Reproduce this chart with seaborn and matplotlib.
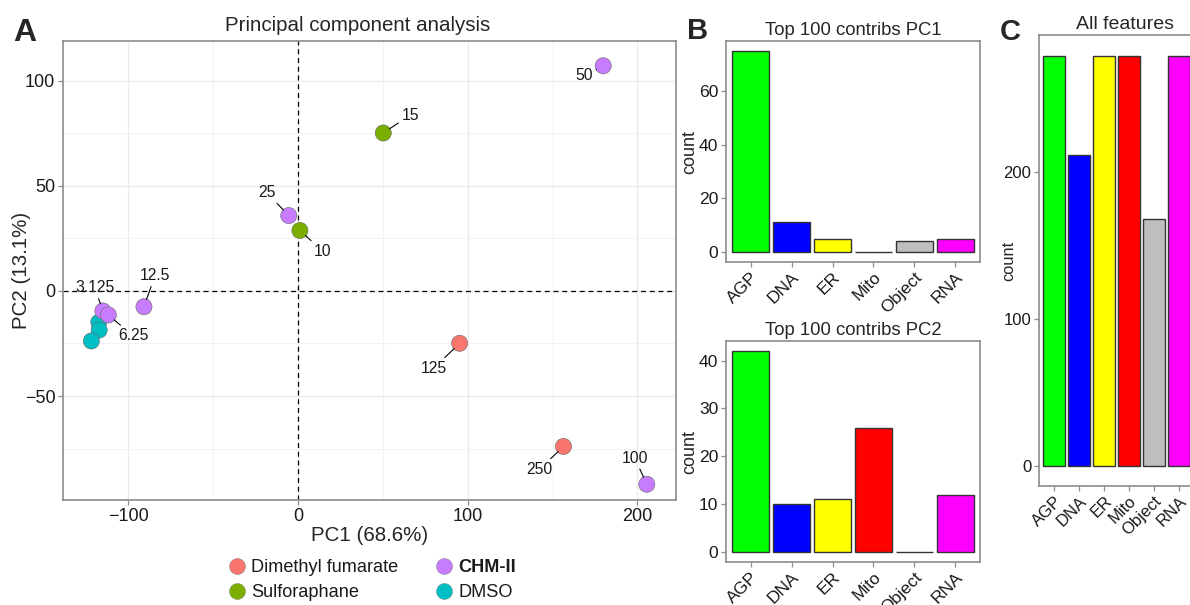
import numpy as np
import pandas as pd
import matplotlib
matplotlib.use("Agg")
import matplotlib.pyplot as plt
from matplotlib.lines import Line2D
import seaborn as sns

sns.set_theme(style="white")
plt.rcParams["font.family"] = ["Liberation Sans", "DejaVu Sans"]

# ---- PCA scores ----
treatment = ["DMSO", "DMSO", "DMSO",
             "CHM-II", "CHM-II", "CHM-II", "CHM-II", "CHM-II", "CHM-II",
             "Sulforaphane", "Sulforaphane",
             "Dimethyl fumarate", "Dimethyl fumarate"]
dose = ["", "", "",
        "50", "25", "12.5", "3.125", "6.25", "100",
        "15", "10",
        "125", "250"]
pc1 = [-117.4, -117.2, -121.8,
       179.8, -5.5, -90.8, -115.0, -111.8, 205.5,
       50.2, 1.1,
       95.2, 156.4]
pc2 = [-14.9, -18.6, -23.8,
       107.2, 35.9, -7.5, -9.5, -11.4, -92.0,
       75.2, 28.8,
       -24.9, -74.0]

# ---- feature counts per channel ----
features = ["AGP", "DNA", "ER", "Mito", "Object", "RNA"]
top_pc1 = [75, 11, 5, 0, 4, 5]
top_pc2 = [42, 10, 11, 26, 0, 12]
all_features = [279, 211, 279, 279, 168, 279]

treat_colors = {"Dimethyl fumarate": "#F8766D", "Sulforaphane": "#7CAE00",
                "CHM-II": "#C77CFF", "DMSO": "#00BFC4"}
feat_colors = {"AGP": "#00FF00", "DNA": "#0000FF", "ER": "#FFFF00",
               "Mito": "#FF0000", "Object": "#BEBEBE", "RNA": "#FF00FF"}

# label offsets (pixels) for the dose annotations
label_offsets = {"50": (-19, -10), "15": (27, 18), "25": (-22, 23),
                 "10": (23, -21), "12.5": (11, 31), "3.125": (-8, 23),
                 "6.25": (25, -21), "125": (-26, -25), "250": (-24, -23),
                 "100": (-12, 26)}

W, H = 1190, 605
fig = plt.figure(figsize=(W / 100, H / 100), dpi=100)


def px_axes(left, top, right, bottom):
    return fig.add_axes([left / W, 1 - bottom / H, (right - left) / W, (bottom - top) / H])


BORDER = "#8C8C8C"
TICKC = "#1A1A1A"


def style_frame(ax):
    for s in ax.spines.values():
        s.set_visible(True)
        s.set_color(BORDER)
        s.set_linewidth(1.2)
    ax.tick_params(axis="both", which="major", direction="out", length=3.5,
                   width=0.9, color=BORDER, labelcolor=TICKC, pad=2,
                   bottom=True, left=True)


# ---------------- Panel A ----------------
axA = px_axes(63, 41, 676, 500)
df = pd.DataFrame({"PC1": pc1, "PC2": pc2, "treatment": treatment, "dose": dose})
axA.axhline(0, color="black", linestyle=(0, (4, 3)), linewidth=0.9, zorder=1)
axA.axvline(0, color="black", linestyle=(0, (4, 3)), linewidth=0.9, zorder=1)
sns.scatterplot(data=df, x="PC1", y="PC2", hue="treatment", palette=treat_colors,
                s=135, edgecolor="#666666", linewidth=0.4, legend=False, ax=axA, zorder=3)
axA.set_xticks([-100, 0, 100, 200])
axA.set_xticks([-150, -50, 50, 150], minor=True)
axA.set_yticks([-50, 0, 50, 100])
axA.set_yticks([-75, -25, 25, 75], minor=True)
axA.set_xlim(-138.5, 222.7)
axA.set_ylim(-99.5, 119)
axA.grid(True, which="major", color="#EBEBEB", linewidth=1.0, zorder=0)
axA.grid(True, which="minor", color="#F2F2F2", linewidth=0.8, zorder=0)
axA.set_axisbelow(True)
for xv, yv, lab in zip(pc1, pc2, dose):
    if not lab:
        continue
    dx, dy = label_offsets[lab]
    axA.annotate(lab, xy=(xv, yv), xytext=(dx, dy), textcoords="offset pixels",
                 ha="center", va="center", fontsize=11.3, color="#1A1A1A", zorder=4,
                 arrowprops=dict(arrowstyle="-", color="black", lw=0.8,
                                 shrinkA=0, shrinkB=5.5))
style_frame(axA)
axA.tick_params(axis="both", which="minor", length=0)
axA.tick_params(axis="both", which="major", labelsize=13)
axA.set_xlabel("PC1 (68.6%)", fontsize=14.8, labelpad=1)
axA.set_ylabel("PC2 (13.1%)", fontsize=14.8)
axA.yaxis.set_label_coords(-0.053, 0.5)
axA.set_title("Principal component analysis", fontsize=14.8, pad=7, x=0.481)

handles = [Line2D([0], [0], marker="o", linestyle="", markersize=11.5,
                  markerfacecolor=treat_colors[t], markeredgecolor="#777777",
                  markeredgewidth=0.3)
           for t in ["Dimethyl fumarate", "Sulforaphane", "CHM-II", "DMSO"]]
leg = fig.legend(handles, ["Dimethyl fumarate", "Sulforaphane", "CHM-II", "DMSO"],
                 ncol=2, loc="center", bbox_to_anchor=(372 / W, 1 - 580 / H),
                 frameon=False, fontsize=13.1, handlelength=1.0, handletextpad=0.3,
                 columnspacing=2.0, labelspacing=0.45)
for t in leg.get_texts():
    t.set_color("#1A1A1A")
    if t.get_text() == "CHM-II":
        t.set_fontweight("bold")


# ---------------- Bar panels ----------------
def bar_panel(ax, counts, title, yticks, tick_fs, title_fs, title_x, ylab_fs, ylab_x):
    bdf = pd.DataFrame({"feature": features, "count": counts})
    sns.barplot(data=bdf, x="feature", y="count", hue="feature", palette=feat_colors,
                order=features, hue_order=features, width=0.9, saturation=1,
                edgecolor="#333333", linewidth=1.0, legend=False, ax=ax, zorder=2)
    top = max(counts)
    ax.set_yticks(yticks)
    ax.set_ylim(-0.05 * top, 1.05 * top)
    ax.set_xlim(-0.6, len(features) - 0.4)
    style_frame(ax)
    ax.tick_params(axis="both", labelsize=tick_fs)
    ax.set_xticks(range(len(features)))
    ax.set_xticklabels(features, rotation=45, ha="right", rotation_mode="anchor")
    ax.set_xlabel("")
    ax.set_ylabel("count", fontsize=ylab_fs)
    ax.yaxis.set_label_coords(ylab_x, 0.5)
    ax.set_title(title, fontsize=title_fs, pad=4, x=title_x)
    ax.grid(False)


axB1 = px_axes(726, 41, 980, 262)
bar_panel(axB1, top_pc1, "Top 100 contribs PC1", [0, 20, 40, 60], 12.6, 13.3, 0.5, 13, -0.108)
axB2 = px_axes(726, 341, 980, 562)
bar_panel(axB2, top_pc2, "Top 100 contribs PC2", [0, 10, 20, 30, 40], 12.6, 13.3, 0.5, 13, -0.108)
axC = px_axes(1039, 35, 1194, 486)
bar_panel(axC, all_features, "All features", [0, 100, 200], 12, 14, 0.558, 11.8, -0.15)

fig.text(13 / W, 1 - 41 / H, "A", fontsize=23, fontweight="bold", ha="left", va="baseline")
fig.text(687 / W, 1 - 39 / H, "B", fontsize=21, fontweight="bold", ha="left", va="baseline")
fig.text(1000 / W, 1 - 40 / H, "C", fontsize=21, fontweight="bold", ha="left", va="baseline")

fig.savefig("out.png", dpi=100)
